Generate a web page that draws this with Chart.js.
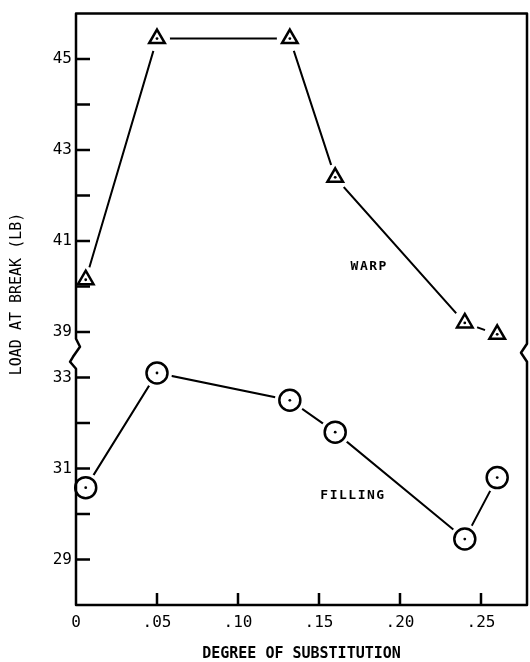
<!DOCTYPE html>
<html>
<head>
<meta charset="utf-8">
<script src="https://cdn.jsdelivr.net/npm/chart.js@4.4.1/dist/chart.umd.min.js"></script>
<style>
  html, body { margin: 0; padding: 0; background: #fff; }
  canvas { display: block; }
</style>
</head>
<body>
<canvas id="chart" width="530" height="662"></canvas>
<script>
// Degree of substitution (x) and load at break in lb for both fabric directions
const substitution = [0.006, 0.05, 0.132, 0.16, 0.24, 0.26];
const warpLoad     = [40.15, 45.45, 45.45, 42.4, 39.2, 38.95];
const fillingLoad  = [30.58, 33.1, 32.5, 31.8, 29.45, 30.8];

const xTickValues = [0, 0.05, 0.10, 0.15, 0.20, 0.25];
const xTickLabels = ['0', '.05', '.10', '.15', '.20', '.25'];

const lowerTickValues = [29, 30, 31, 32, 33];
const upperTickValues = [39, 40, 41, 42, 43, 44, 45];
const labelledTicks   = [29, 31, 33, 39, 41, 43, 45];

// The axis is broken between 33 and 39 lb: the upper segment is shifted
// down so that 39 sits one unit above 33.
const BREAK_SHIFT = 5;
const BREAK_AT = 33.5;
const toPlot = v => (v >= 36 ? v - BREAK_SHIFT : v);
const fromPlot = d => (d >= 33.75 ? d + BREAK_SHIFT : d);

const MONO = "'DejaVu Sans Mono', 'Liberation Mono', monospace";

function points(values) {
  return substitution.map((x, i) => ({ x, y: toPlot(values[i]) }));
}

function seriesDatasets(values, style, markerRadius, haloRadius) {
  const data = points(values);
  return [
    { // connecting line, with white halos leaving a gap around each marker
      data, showLine: true, borderColor: '#000', borderWidth: 2,
      pointRadius: haloRadius, pointBackgroundColor: '#fff', pointBorderWidth: 0,
      pointHoverRadius: haloRadius, order: 3
    },
    { // open markers
      data, showLine: false, pointStyle: style, pointRadius: markerRadius,
      pointBackgroundColor: '#fff', pointBorderColor: '#000', pointBorderWidth: 2.5,
      pointHoverRadius: markerRadius, clip: false, order: 1
    },
    { // centre dots
      data, showLine: false, pointStyle: 'circle', pointRadius: 1.4,
      pointBackgroundColor: '#000', pointBorderWidth: 0, clip: false, order: 0
    }
  ];
}

const framePlugin = {
  id: 'frame',
  afterDraw(chart) {
    const { ctx, chartArea: a, scales: { x, y } } = chart;
    const yb = y.getPixelForValue(BREAK_AT);
    ctx.save();
    ctx.strokeStyle = '#000';
    ctx.lineWidth = 2.5;
    ctx.lineJoin = 'round';

    // frame with break marks on both vertical axes
    ctx.beginPath();
    ctx.moveTo(a.left, a.top);
    ctx.lineTo(a.left, yb - 16);
    ctx.lineTo(a.left + 4, yb - 8);
    ctx.lineTo(a.left - 3, yb + 2);
    ctx.lineTo(a.left - 6, yb + 7);
    ctx.lineTo(a.left, yb + 14);
    ctx.lineTo(a.left, a.bottom);
    ctx.lineTo(a.right, a.bottom);
    ctx.lineTo(a.right, yb + 7);
    ctx.lineTo(a.right - 6, yb - 2);
    ctx.lineTo(a.right, yb - 11);
    ctx.lineTo(a.right, a.top);
    ctx.closePath();
    ctx.stroke();

    // inward tick marks
    ctx.beginPath();
    y.ticks.forEach(t => {
      const py = y.getPixelForValue(t.value);
      ctx.moveTo(a.left, py);
      ctx.lineTo(a.left + 14, py);
    });
    xTickValues.forEach(v => {
      if (v === 0) return;
      const px = x.getPixelForValue(v);
      ctx.moveTo(px, a.bottom);
      ctx.lineTo(px, a.bottom - 12);
    });
    ctx.stroke();

    // series labels
    ctx.fillStyle = '#000';
    ctx.textAlign = 'center';
    ctx.textBaseline = 'middle';
    ctx.font = 'bold 13px ' + MONO;
    ctx.letterSpacing = '1.5px';
    ctx.fillText('WARP', x.getPixelForValue(0.181), y.getPixelForValue(toPlot(40.43)));
    ctx.fillText('FILLING', x.getPixelForValue(0.171), y.getPixelForValue(30.4));

    // y-axis title
    ctx.letterSpacing = '0px';
    ctx.font = '15px ' + MONO;
    ctx.translate(17, 294);
    ctx.rotate(-Math.PI / 2);
    ctx.fillText('LOAD AT BREAK (LB)', 0, 0);
    ctx.restore();
  }
};

new Chart(document.getElementById('chart'), {
  type: 'scatter',
  data: {
    datasets: [
      ...seriesDatasets(warpLoad, 'triangle', 9, 13),
      ...seriesDatasets(fillingLoad, 'circle', 10.5, 15)
    ]
  },
  options: {
    responsive: false,
    animation: false,
    devicePixelRatio: 1,
    layout: { autoPadding: false, padding: { top: 12, right: 3, left: 0, bottom: 0 } },
    plugins: { legend: { display: false }, tooltip: { enabled: false } },
    scales: {
      x: {
        type: 'linear', min: 0, max: 0.2784,
        border: { display: false },
        grid: { display: false, drawTicks: false },
        afterBuildTicks: s => { s.ticks = xTickValues.map(v => ({ value: v })); },
        ticks: {
          autoSkip: false, maxRotation: 0, padding: 8, color: '#000',
          font: { family: MONO, size: 16 },
          callback: (v, i) => xTickLabels[i]
        },
        title: {
          display: true, text: 'DEGREE OF SUBSTITUTION', color: '#000',
          font: { family: MONO, size: 15, weight: 'bold', lineHeight: 1 },
          padding: { top: 0, bottom: 0 }
        },
        afterFit: s => { s.height = 57; }
      },
      y: {
        type: 'linear', min: 28, max: 41,
        border: { display: false },
        grid: { display: false, drawTicks: false },
        afterBuildTicks: s => {
          s.ticks = [...lowerTickValues, ...upperTickValues.map(toPlot)].map(v => ({ value: v }));
        },
        ticks: {
          autoSkip: false, padding: 4, color: '#000',
          font: { family: MONO, size: 16 },
          callback: v => {
            const lb = Math.round(fromPlot(v));
            return labelledTicks.includes(lb) ? String(lb) : '';
          }
        },
        afterFit: s => { s.width = 76; }
      }
    }
  },
  plugins: [framePlugin]
});
</script>
</body>
</html>
